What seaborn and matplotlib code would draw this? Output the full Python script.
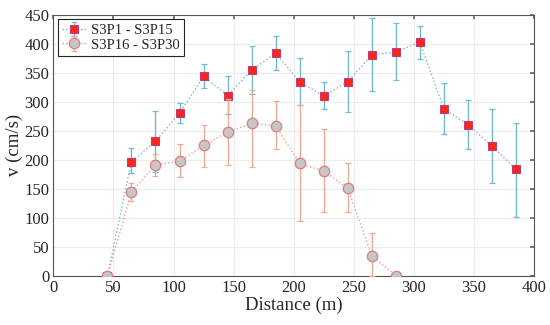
import matplotlib
matplotlib.use("Agg")
import matplotlib.pyplot as plt
import seaborn as sns
import numpy as np
import pandas as pd

# data
dist_1 = [45, 65, 85, 105, 125, 145, 165, 185, 205, 225, 245, 265, 285, 305, 325, 345, 365, 385]
v_1 = [0, 197, 232, 281, 344, 311, 355, 384, 335, 310, 335, 381, 386, 403, 288, 261, 224, 184]
lo_1 = [0, 177, 180, 264, 324, 279, 314, 355, 295, 287, 282, 319, 337, 374, 244, 218, 160, 101]
hi_1 = [0, 220, 285, 298, 365, 344, 397, 413, 375, 335, 388, 444, 436, 431, 332, 303, 288, 264]

dist_2 = [45, 65, 85, 105, 125, 145, 165, 185, 205, 225, 245, 265, 285]
v_2 = [0, 145, 191, 198, 225, 248, 263, 259, 194, 181, 151, 35, 0]
lo_2 = [0, 129, 172, 170, 188, 191, 188, 218, 95, 110, 110, 0, 0]
hi_2 = [0, 161, 210, 228, 260, 305, 321, 301, 295, 254, 195, 74, 0]

label_1 = "S3P1 - S3P15"
label_2 = "S3P16 - S3P30"

sns.set_theme(style="whitegrid")
plt.rcParams["font.family"] = ["Liberation Serif", "DejaVu Serif"]

BLUE = "#74b8cc"
ORANGE = "#e9ac94"

fig, ax = plt.subplots(figsize=(5.5, 3.25), dpi=100)
fig.subplots_adjust(left=0.097, right=0.971, top=0.954, bottom=0.151)

df1 = pd.DataFrame({"d": dist_1, "v": v_1})
df2 = pd.DataFrame({"d": dist_2, "v": v_2})

err_1 = [np.array(v_1) - np.array(lo_1), np.array(hi_1) - np.array(v_1)]
err_2 = [np.array(v_2) - np.array(lo_2), np.array(hi_2) - np.array(v_2)]

eb1 = ax.errorbar(dist_1, v_1, yerr=err_1, fmt="none", ecolor=BLUE,
                  elinewidth=1.0, capsize=2.5, capthick=0.9, zorder=2)
sns.lineplot(data=df1, x="d", y="v", ax=ax, color=BLUE, linestyle=":",
             linewidth=1.0, marker="s", markersize=5.8,
             markerfacecolor="#ff2418", markeredgecolor="#b8407a",
             markeredgewidth=0.8, zorder=3, legend=False)
l1 = ax.lines[-1]

eb2 = ax.errorbar(dist_2, v_2, yerr=err_2, fmt="none", ecolor=ORANGE,
                  elinewidth=1.0, capsize=2.5, capthick=0.9, zorder=4)
sns.lineplot(data=df2, x="d", y="v", ax=ax, color="#e8a084", linestyle=":",
             linewidth=1.0, marker="o", markersize=7.5,
             markerfacecolor="#c6c6c6", markeredgecolor="#e07c7c",
             markeredgewidth=0.9, zorder=5, legend=False)
l2 = ax.lines[-1]

ax.set_xlim(0, 400)
ax.set_ylim(0, 450)
ax.set_xticks(range(0, 401, 50))
ax.set_yticks(range(0, 451, 50))
ax.set_xlabel("Distance (m)", fontsize=13.5, labelpad=0.5)
ax.set_ylabel("v (cm/s)", fontsize=13.5, labelpad=1)
ax.tick_params(axis="both", labelsize=12, direction="in", length=3,
               top=True, right=True, color="#666666", pad=3)
ax.grid(True, color="#ececec", linewidth=0.8)
for sp in ax.spines.values():
    sp.set_color("#555555")
    sp.set_linewidth(0.8)

leg = ax.legend([(eb1, l1), (eb2, l2)], [label_1, label_2], loc="upper left",
                fontsize=10.5, frameon=True, fancybox=False, borderpad=0.3,
                handlelength=1.7, handletextpad=0.3, labelspacing=0.1,
                borderaxespad=0.3)
leg.get_frame().set_edgecolor("#222222")
leg.get_frame().set_linewidth(0.8)
leg.get_frame().set_alpha(1)

fig.savefig("out.png", dpi=100)
